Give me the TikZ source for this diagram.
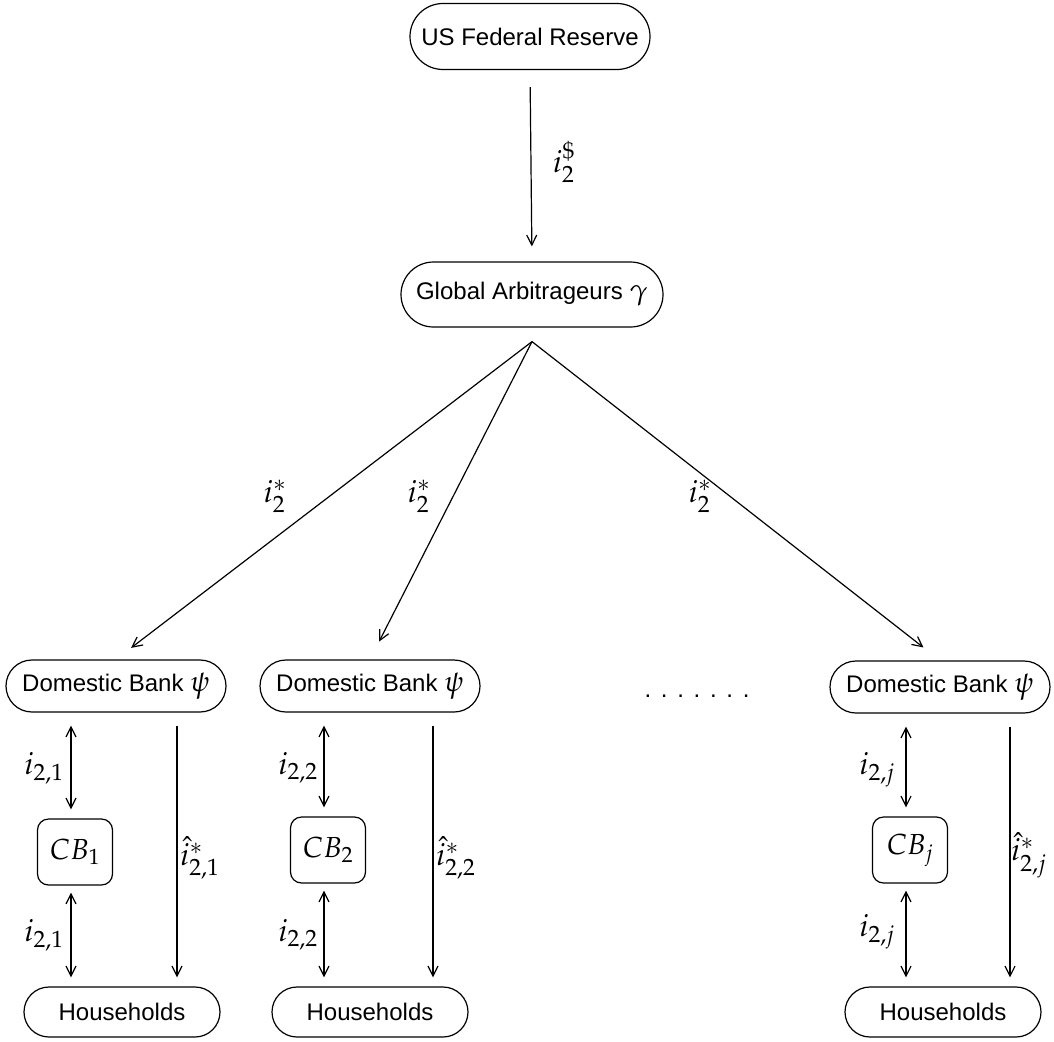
\documentclass[tikz,border=0pt]{standalone}
\usepackage{mathpazo}
\usepackage[no-math]{fontspec}
\setmainfont{Liberation Sans}
\usetikzlibrary{arrows.meta,calc,shapes.misc}
\newcommand{\nodemath}[1]{{\fontsize{29}{30}\selectfont$#1$}}
\begin{document}
\begin{tikzpicture}[x=1pt,y=-1pt,
  every node/.style={font=\fontsize{24}{28}\selectfont, inner sep=0pt},
  capsule/.style={draw, line width=1.2pt, rounded rectangle, rounded rectangle arc length=180},
  fedbox/.style={capsule, minimum width=240pt, minimum height=66pt},
  gabox/.style={capsule, minimum width=262pt, minimum height=65pt},
  dbbox/.style={capsule, minimum width=220pt, minimum height=52pt},
  hhbox/.style={capsule, minimum width=196pt, minimum height=50pt},
  cbbox/.style={draw, line width=1.2pt, rounded corners=11pt, minimum width=75pt, minimum height=66pt, font=\fontsize{29}{30}\selectfont},
  mlab/.style={font=\fontsize{31}{34}\selectfont},
  arr/.style={line width=1.2pt, -{Straight Barb[length=10pt,width=10pt,line width=1.2pt]}},
  darr/.style={line width=1.2pt, {Straight Barb[length=10pt,width=10pt,line width=1.2pt]}-{Straight Barb[length=10pt,width=10pt,line width=1.2pt]}}
]
\useasboundingbox (0,0) rectangle (1054,1041);

% nodes
\node[fedbox] (fed) at (530,36.5) {US Federal Reserve};
\node[gabox] (ga) at (532,294.5) {Global Arbitrageurs \nodemath{\gamma}};
\node[dbbox] (db1) at (116,686) {Domestic Bank \nodemath{\psi}};
\node[dbbox] (db2) at (370,686) {Domestic Bank \nodemath{\psi}};
\node[dbbox] (db3) at (940,687) {Domestic Bank \nodemath{\psi}};
\node[cbbox] (cb1) at (75,852) {$CB_1$};
\node[cbbox] (cb2) at (328,850) {$CB_2$};
\node[cbbox] (cb3) at (910,850) {$CB_j$};
\node[hhbox] (hh1) at (122,1012) {Households};
\node[hhbox] (hh2) at (370,1012) {Households};
\node[hhbox] (hh3) at (943,1012) {Households};
\node[anchor=base] (dots) at (697,697) {.\hspace{9.7pt}.\hspace{9.7pt}.\hspace{9.7pt}.\hspace{9.7pt}.\hspace{9.7pt}.\hspace{9.7pt}.};

\coordinate (apex) at ([yshift=-14pt]ga.south);

% connectors
\draw[arr, shorten <=17pt, shorten >=15pt] (fed.south) -- (ga.north);
\draw[arr, shorten >=19pt] (apex) -- (db1.north);
\draw[arr, shorten >=20pt] (apex) -- (db2.north);
\draw[arr, shorten >=21pt] (apex) -- (db3.north);

\foreach \k/\s in {1/61,2/63,3/70}{
  \draw[darr, shorten <=13pt, shorten >=9pt] ([xshift=-4pt]cb\k.north |- db\k.south) -- ([xshift=-4pt]cb\k.north);
  \draw[darr, shorten <=7pt, shorten >=9pt] ([xshift=-4pt]cb\k.south) -- ([xshift=-4pt]cb\k.south |- hh\k.north);
  \draw[arr, shorten <=13pt, shorten >=9pt] ([xshift=\s pt]db\k.south) -- ([xshift=\s pt]db\k.south |- hh\k.north);
}

% labels
\node[mlab] (lfed) at (564,162) {$i_2^{\$}$};
\node[mlab] (ls1) at (275,496) {$i_2^*$};
\node[mlab] (ls2) at (419,496) {$i_2^*$};
\node[mlab] (ls3) at (700,496) {$i_2^*$};
\node[mlab] (l11) at (44,768) {$i_{2,1}$};
\node[mlab] (l12) at (44,935) {$i_{2,1}$};
\node[mlab] (l21) at (298,768) {$i_{2,2}$};
\node[mlab] (l22) at (298,935) {$i_{2,2}$};
\node[mlab] (l31) at (877,770) {$i_{2,j}$};
\node[mlab] (l32) at (877,932) {$i_{2,j}$};
\node[mlab, anchor=west] (h1) at (180,858) {${\hat{i}}^*_{2,1}$};
\node[mlab, anchor=west] (h2) at (436,858) {${\hat{i}}^*_{2,2}$};
\node[mlab, anchor=west] (h3) at (1011,855) {${\hat{i}}^*_{2,j}$};
\end{tikzpicture}
\end{document}
